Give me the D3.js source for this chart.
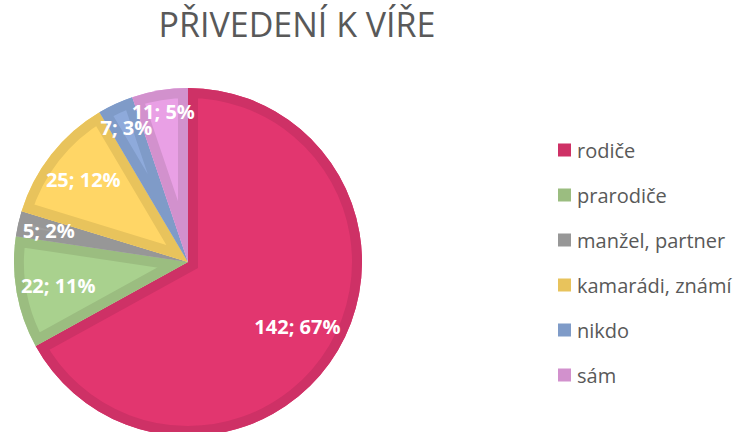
<!DOCTYPE html>
<html lang="cs">
<head>
<meta charset="UTF-8">
<script src="https://d3js.org/d3.v7.min.js"></script>
<style>
  body { margin: 0; background: #fff; }
  svg { display: block; }
</style>
</head>
<body>
<script>
// data
const categories = ["rodiče", "prarodiče", "manžel, partner", "kamarádi, známí", "nikdo", "sám"];
const counts = [142, 22, 5, 25, 7, 11];
const percents = [67, 11, 2, 12, 3, 5];
const fills = ["#E2366F", "#A9D18E", "#9E9E9E", "#FFD666", "#8EAADB", "#E9A0E5"];
const borders = ["#CE3166", "#9BBD80", "#979797", "#E8C35C", "#7F9BC8", "#D291CD"];

const w = 739, h = 432;
const cx = 188, cy = 262, r = 174;
const inner = 10; // width of the darker inner edge

const svg = d3.select("body").append("svg")
  .attr("width", w)
  .attr("height", h);

// title
svg.append("text")
  .attr("x", 297)
  .attr("y", 37)
  .attr("text-anchor", "middle")
  .attr("fill", "#595959")
  .style("font-family", "'Open Sans', sans-serif")
  .style("font-size", "34px")
  .text("PŘIVEDENÍ K VÍŘE");

const pie = d3.pie().sort(null).value(d => d)(counts);
const arc = d3.arc().innerRadius(0).outerRadius(r);

const g = svg.append("g").attr("transform", `translate(${cx},${cy})`);
const defs = svg.append("defs");

pie.forEach((p, i) => {
  defs.append("clipPath").attr("id", "clip" + i)
    .append("path").attr("d", arc(p));
});

const slices = g.selectAll("g.slice")
  .data(pie)
  .enter().append("g")
  .attr("class", "slice");

slices.append("path")
  .attr("d", arc)
  .attr("fill", (d, i) => fills[i]);

// darker edge inside each slice
slices.append("path")
  .attr("d", arc)
  .attr("fill", "none")
  .attr("stroke", (d, i) => borders[i])
  .attr("stroke-width", inner * 2)
  .attr("stroke-linejoin", "miter")
  .attr("clip-path", (d, i) => `url(#clip${i})`);

// labels, pushed toward the outer edge
const labels = g.selectAll("text.lbl")
  .data(pie)
  .enter().append("text")
  .attr("class", "lbl")
  .attr("text-anchor", "middle")
  .attr("dominant-baseline", "central")
  .attr("fill", "#fff")
  .style("font-family", "'Open Sans', sans-serif")
  .style("font-weight", "bold")
  .style("font-size", "20px")
  .text((d, i) => counts[i] + "; " + percents[i] + "%");

labels.each(function(d) {
  const bb = this.getBBox();
  const a = (d.startAngle + d.endAngle) / 2;
  const dx = Math.sin(a), dy = -Math.cos(a);
  const ext = Math.abs(dx) * bb.width / 2 + Math.abs(dy) * bb.height / 2;
  const rr = r - 3 - ext;
  d3.select(this).attr("x", dx * rr).attr("y", dy * rr);
});

// legend
const legend = svg.append("g").attr("transform", "translate(558,150)");
const items = legend.selectAll("g")
  .data(categories)
  .enter().append("g")
  .attr("transform", (d, i) => `translate(0,${i * 45})`);

items.append("rect")
  .attr("x", 0)
  .attr("y", -6.5)
  .attr("width", 13)
  .attr("height", 13)
  .attr("fill", (d, i) => borders[i]);

items.append("text")
  .attr("x", 19)
  .attr("y", 0)
  .attr("dominant-baseline", "central")
  .attr("fill", "#595959")
  .style("font-family", "'Open Sans', sans-serif")
  .style("font-size", "20px")
  .text(d => d);
</script>
</body>
</html>
